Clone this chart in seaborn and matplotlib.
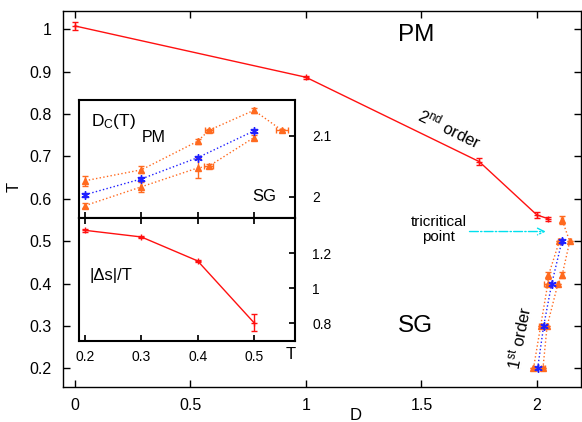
import matplotlib
matplotlib.use('Agg')
import matplotlib.pyplot as plt
import seaborn as sns
import pandas as pd

# 2nd order line (main panel: D vs T)
D_2nd = [0.0, 1.0, 1.75, 2.0, 2.05]
T_2nd = [1.008, 0.887, 0.688, 0.562, 0.553]
T_2nd_err = [0.010, 0.004, 0.008, 0.008, 0.005]

# 1st order line, D_c(T): upper bound, lower bound, estimate
T_up = [0.2, 0.3, 0.4, 0.42, 0.5, 0.55]
Dc_up = [2.026, 2.044, 2.091, 2.109, 2.142, 2.109]
Dc_up_err = [0.008, 0.006, 0.004, 0.003, 0.004, 0.003]
T_up_err = [0.0, 0.0, 0.0, 0.007, 0.0, 0.010]

T_lo = [0.2, 0.3, 0.4, 0.42, 0.5]
Dc_lo = [1.985, 2.016, 2.047, 2.050, 2.097]
Dc_lo_err = [0.004, 0.008, 0.017, 0.003, 0.004]
T_lo_err = [0.0, 0.0, 0.0, 0.008, 0.0]

T_mid = [0.2, 0.3, 0.4, 0.5]
Dc_mid = [2.003, 2.029, 2.064, 2.108]
Dc_mid_err = [0.003, 0.003, 0.003, 0.003]

# entropy jump along the 1st order line
T_ds = [0.2, 0.3, 0.4, 0.5]
ds = [1.331, 1.293, 1.156, 0.803]
ds_err = [0.008, 0.006, 0.006, 0.05]

RED = '#ff1010'
ORANGE = '#ff6a1f'
BLUE = '#2020ff'
CYAN = '#00e0ee'

sns.set_theme(style='ticks')
plt.rcParams['font.family'] = ['Liberation Sans', 'DejaVu Sans']
plt.rcParams['mathtext.default'] = 'regular'
plt.rcParams['text.color'] = 'black'
plt.rcParams['axes.labelcolor'] = 'black'
plt.rcParams['xtick.color'] = 'black'
plt.rcParams['ytick.color'] = 'black'


def draw(ax, x, y, xerr, yerr, color, marker, ls, ms):
    df = pd.DataFrame({'x': x, 'y': y})
    sns.lineplot(data=df, x='x', y='y', ax=ax, sort=False, estimator=None,
                 color=color, marker=marker, markersize=ms, linestyle=ls,
                 linewidth=1, markeredgecolor=color, markeredgewidth=1)
    ax.errorbar(x, y, xerr=xerr, yerr=yerr, fmt='none', ecolor=color,
                elinewidth=1, capsize=2)


fig = plt.figure(figsize=(5.82, 4.22), dpi=100)
ax = fig.add_axes([0.108, 0.0837, 0.890, 0.891])

draw(ax, D_2nd, T_2nd, None, T_2nd_err, RED, '+', '-', 5)
draw(ax, Dc_up, T_up, Dc_up_err, T_up_err, ORANGE, '^', ':', 5)
draw(ax, Dc_lo, T_lo, Dc_lo_err, T_lo_err, ORANGE, '^', ':', 5)
draw(ax, Dc_mid, T_mid, Dc_mid_err, None, BLUE, (6, 2, 0), ':', 6)

ax.set_xlim(-0.052, 2.19)
ax.set_ylim(0.157, 1.044)
ax.set_xticks([0, 0.5, 1, 1.5, 2])
ax.set_xticklabels(['0', '0.5', '1', '1.5', '2'])
ax.set_yticks([0.2, 0.3, 0.4, 0.5, 0.6, 0.7, 0.8, 0.9, 1.0])
ax.set_yticklabels(['0.2', '0.3', '0.4', '0.5', '0.6', '0.7', '0.8', '0.9', '1'])
ax.tick_params(direction='in', top=True, right=True, length=5, width=1,
               labelsize=11.5, pad=8)
for s in ax.spines.values():
    s.set_linewidth(1)
    s.set_color('black')
ax.set_xlabel('D', fontsize=12)
ax.set_ylabel('T', fontsize=12)
ax.xaxis.set_label_coords(0.566, -0.058)
ax.yaxis.set_label_coords(-0.08, 0.532)

ax.text(1.479, 0.987, 'PM', fontsize=17.5, ha='center', va='center')
ax.text(1.474, 0.300, 'SG', fontsize=17.5, ha='center', va='center')
ax.text(1.623, 0.766, '2$^{nd}$ order', fontsize=12, ha='center', va='center',
        rotation=-26)
ax.text(1.926, 0.273, '1$^{st}$ order', fontsize=12, ha='center', va='center',
        rotation=79)
ax.text(1.576, 0.528, 'tricritical\npoint', fontsize=11, ha='center',
        va='center', linespacing=1.1)
ax.annotate('', xy=(2.05, 0.523), xytext=(1.696, 0.523),
            arrowprops=dict(arrowstyle='->', color=CYAN, linestyle='-.', lw=1))

# inset: D_c(T)
ax1 = fig.add_axes([0.1357, 0.484, 0.372, 0.279])
draw(ax1, T_up, Dc_up, T_up_err, Dc_up_err, ORANGE, '^', ':', 5)
draw(ax1, T_lo, Dc_lo, T_lo_err, Dc_lo_err, ORANGE, '^', ':', 5)
draw(ax1, T_mid, Dc_mid, None, Dc_mid_err, BLUE, (6, 2, 0), ':', 6)
ax1.set_xlim(0.189, 0.574)
ax1.set_ylim(1.965, 2.159)
ax1.set_xticks([0.2, 0.3, 0.4, 0.5])
ax1.set_yticks([2.0, 2.1])
ax1.set_yticklabels(['2', '2.1'])
ax1.yaxis.tick_right()
ax1.tick_params(axis='x', direction='in', bottom=True, top=False,
                labelbottom=False, length=4)
ax1.tick_params(axis='y', direction='in', right=True, left=False,
                labelright=True, labelleft=False, length=4, labelsize=10,
                pad=12)
ax1.set_xlabel('')
ax1.set_ylabel('')
ax1.text(0.055, 0.82, 'D$_C$(T)', transform=ax1.transAxes, fontsize=12.5,
         va='center')
ax1.text(0.29, 0.68, 'PM', transform=ax1.transAxes, fontsize=11.5,
         va='center')
ax1.text(0.80, 0.18, 'SG', transform=ax1.transAxes, fontsize=12,
         va='center')

# inset: |Δs|/T
ax2 = fig.add_axes([0.1357, 0.193, 0.372, 0.291])
draw(ax2, T_ds, ds, None, ds_err, RED, '+', '-', 5)
ax2.set_xlim(0.189, 0.574)
ax2.set_ylim(0.70, 1.403)
ax2.set_xticks([0.2, 0.3, 0.4, 0.5])
ax2.set_xticklabels(['0.2', '0.3', '0.4', '0.5'])
ax2.set_yticks([0.8, 1.0, 1.2])
ax2.set_yticklabels(['0.8', '1', '1.2'])
ax2.yaxis.tick_right()
ax2.tick_params(axis='x', direction='in', bottom=True, top=True, length=4,
                labelsize=10, pad=7)
ax2.tick_params(axis='y', direction='in', right=True, left=False,
                labelright=True, labelleft=False, length=4, labelsize=10,
                pad=12)
ax2.set_xlabel('')
ax2.set_ylabel('')
ax2.text(0.05, 0.53, '|Δs|/T', transform=ax2.transAxes, fontsize=12,
         va='center')
ax2.text(0.98, -0.115, 'T', transform=ax2.transAxes, fontsize=12,
         ha='center', va='center')

for a in (ax1, ax2):
    for s in a.spines.values():
        s.set_linewidth(1.5)
        s.set_color('black')

fig.savefig('out.png', dpi=100)
